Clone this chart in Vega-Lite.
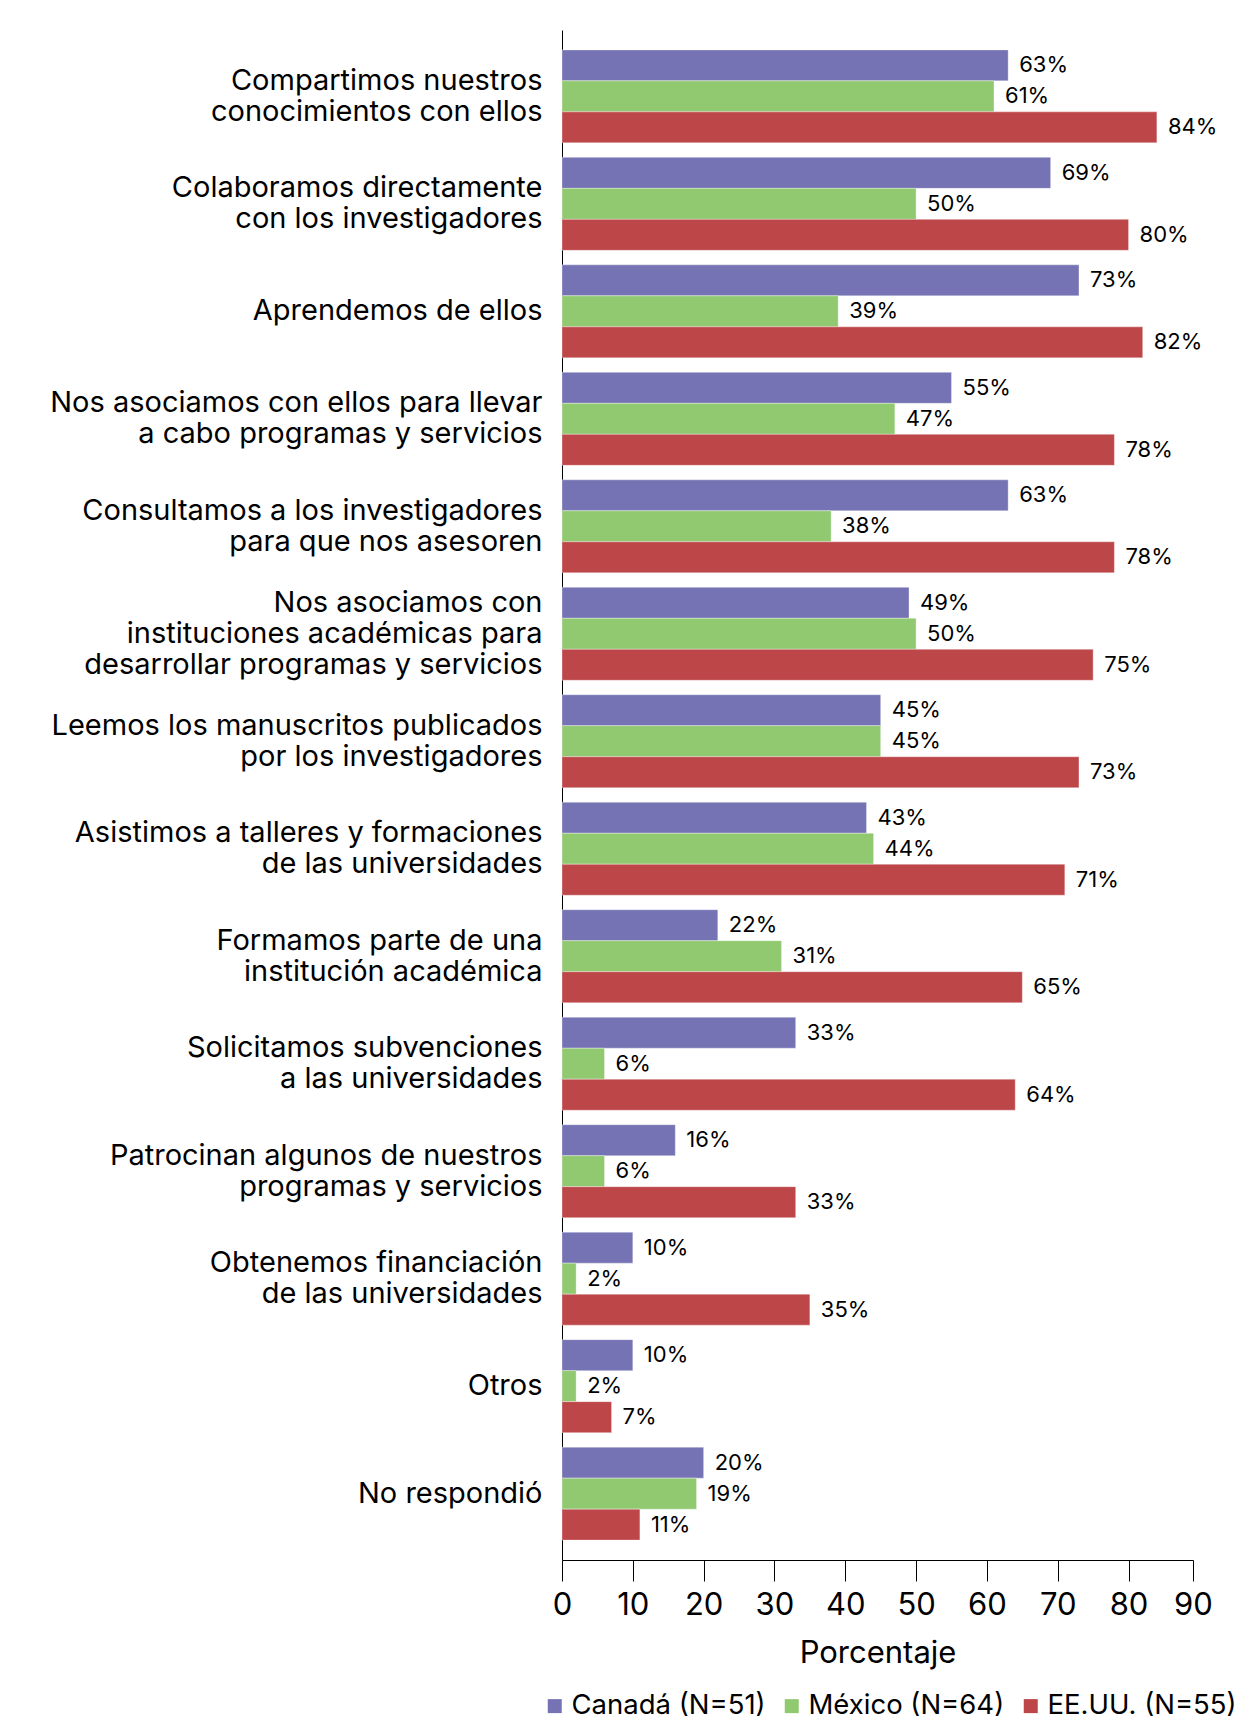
{
  "$schema": "https://vega.github.io/schema/vega-lite/v6.json",
  "width": 631,
  "height": 1530,
  "autosize": {"type": "none"},
  "padding": {"left": 562, "top": 30, "right": 57, "bottom": 173},
  "background": "white",
  "config": {"view": {"stroke": null}, "font": "Inter"},
  "data": {"values": [
    {"categoria": "Compartimos nuestros|conocimientos con ellos", "pais": "Canadá (N=51)", "valor": 63},
    {"categoria": "Compartimos nuestros|conocimientos con ellos", "pais": "México (N=64)", "valor": 61},
    {"categoria": "Compartimos nuestros|conocimientos con ellos", "pais": "EE.UU. (N=55)", "valor": 84},
    {"categoria": "Colaboramos directamente|con los investigadores", "pais": "Canadá (N=51)", "valor": 69},
    {"categoria": "Colaboramos directamente|con los investigadores", "pais": "México (N=64)", "valor": 50},
    {"categoria": "Colaboramos directamente|con los investigadores", "pais": "EE.UU. (N=55)", "valor": 80},
    {"categoria": "Aprendemos de ellos", "pais": "Canadá (N=51)", "valor": 73},
    {"categoria": "Aprendemos de ellos", "pais": "México (N=64)", "valor": 39},
    {"categoria": "Aprendemos de ellos", "pais": "EE.UU. (N=55)", "valor": 82},
    {"categoria": "Nos asociamos con ellos para llevar|a cabo programas y servicios", "pais": "Canadá (N=51)", "valor": 55},
    {"categoria": "Nos asociamos con ellos para llevar|a cabo programas y servicios", "pais": "México (N=64)", "valor": 47},
    {"categoria": "Nos asociamos con ellos para llevar|a cabo programas y servicios", "pais": "EE.UU. (N=55)", "valor": 78},
    {"categoria": "Consultamos a los investigadores|para que nos asesoren", "pais": "Canadá (N=51)", "valor": 63},
    {"categoria": "Consultamos a los investigadores|para que nos asesoren", "pais": "México (N=64)", "valor": 38},
    {"categoria": "Consultamos a los investigadores|para que nos asesoren", "pais": "EE.UU. (N=55)", "valor": 78},
    {"categoria": "Nos asociamos con|instituciones académicas para|desarrollar programas y servicios", "pais": "Canadá (N=51)", "valor": 49},
    {"categoria": "Nos asociamos con|instituciones académicas para|desarrollar programas y servicios", "pais": "México (N=64)", "valor": 50},
    {"categoria": "Nos asociamos con|instituciones académicas para|desarrollar programas y servicios", "pais": "EE.UU. (N=55)", "valor": 75},
    {"categoria": "Leemos los manuscritos publicados|por los investigadores", "pais": "Canadá (N=51)", "valor": 45},
    {"categoria": "Leemos los manuscritos publicados|por los investigadores", "pais": "México (N=64)", "valor": 45},
    {"categoria": "Leemos los manuscritos publicados|por los investigadores", "pais": "EE.UU. (N=55)", "valor": 73},
    {"categoria": "Asistimos a talleres y formaciones|de las universidades", "pais": "Canadá (N=51)", "valor": 43},
    {"categoria": "Asistimos a talleres y formaciones|de las universidades", "pais": "México (N=64)", "valor": 44},
    {"categoria": "Asistimos a talleres y formaciones|de las universidades", "pais": "EE.UU. (N=55)", "valor": 71},
    {"categoria": "Formamos parte de una|institución académica", "pais": "Canadá (N=51)", "valor": 22},
    {"categoria": "Formamos parte de una|institución académica", "pais": "México (N=64)", "valor": 31},
    {"categoria": "Formamos parte de una|institución académica", "pais": "EE.UU. (N=55)", "valor": 65},
    {"categoria": "Solicitamos subvenciones|a las universidades", "pais": "Canadá (N=51)", "valor": 33},
    {"categoria": "Solicitamos subvenciones|a las universidades", "pais": "México (N=64)", "valor": 6},
    {"categoria": "Solicitamos subvenciones|a las universidades", "pais": "EE.UU. (N=55)", "valor": 64},
    {"categoria": "Patrocinan algunos de nuestros|programas y servicios", "pais": "Canadá (N=51)", "valor": 16},
    {"categoria": "Patrocinan algunos de nuestros|programas y servicios", "pais": "México (N=64)", "valor": 6},
    {"categoria": "Patrocinan algunos de nuestros|programas y servicios", "pais": "EE.UU. (N=55)", "valor": 33},
    {"categoria": "Obtenemos financiación|de las universidades", "pais": "Canadá (N=51)", "valor": 10},
    {"categoria": "Obtenemos financiación|de las universidades", "pais": "México (N=64)", "valor": 2},
    {"categoria": "Obtenemos financiación|de las universidades", "pais": "EE.UU. (N=55)", "valor": 35},
    {"categoria": "Otros", "pais": "Canadá (N=51)", "valor": 10},
    {"categoria": "Otros", "pais": "México (N=64)", "valor": 2},
    {"categoria": "Otros", "pais": "EE.UU. (N=55)", "valor": 7},
    {"categoria": "No respondió", "pais": "Canadá (N=51)", "valor": 20},
    {"categoria": "No respondió", "pais": "México (N=64)", "valor": 19},
    {"categoria": "No respondió", "pais": "EE.UU. (N=55)", "valor": 11}
  ]},
  "transform": [{"calculate": "datum.valor + '%'", "as": "etiqueta"}],
  "encoding": {
    "y": {
      "field": "categoria", "type": "nominal", "sort": null,
      "scale": {"paddingInner": 0.135, "paddingOuter": 0.185},
      "axis": {
        "title": null, "ticks": false, "domain": true, "domainColor": "#000000", "domainWidth": 1,
        "labelExpr": "split(datum.label, '|')", "labelFont": "Inter", "labelFontSize": 29,
        "labelLineHeight": 31, "labelColor": "#000000", "labelPadding": 20, "labelLimit": 0,
        "labelOffset": {
          "condition": [
            {"test": "length(split(datum.value, '|')) == 3", "value": -31},
            {"test": "length(split(datum.value, '|')) == 2", "value": -15.5}
          ],
          "value": 0
        }
      }
    },
    "yOffset": {
      "field": "pais", "type": "nominal",
      "sort": ["Canadá (N=51)", "México (N=64)", "EE.UU. (N=55)"],
      "scale": {"paddingInner": 0, "paddingOuter": 0}
    },
    "x": {
      "field": "valor", "type": "quantitative",
      "scale": {"domain": [0, 89.1], "nice": false},
      "axis": {
        "values": [0, 10, 20, 30, 40, 50, 60, 70, 80, 89.1],
        "labelExpr": "datum.value > 85 ? '90' : datum.label",
        "labelFlush": false,
        "grid": false, "domainColor": "#000000", "tickColor": "#000000", "tickSize": 21,
        "labelFont": "Inter", "labelFontSize": 31, "labelColor": "#000000", "labelPadding": 9,
        "title": "Porcentaje", "titleFont": "Inter", "titleFontSize": 31, "titleFontWeight": "normal",
        "titleColor": "#000000", "titlePadding": 18
      }
    }
  },
  "layer": [
    {
      "mark": {"type": "bar", "stroke": "#ffffff", "strokeOpacity": 0.35, "strokeWidth": 1},
      "encoding": {
        "color": {
          "field": "pais", "type": "nominal",
          "sort": ["Canadá (N=51)", "México (N=64)", "EE.UU. (N=55)"],
          "scale": {"domain": ["Canadá (N=51)", "México (N=64)", "EE.UU. (N=55)"], "range": ["#7573b4", "#90c970", "#bd4649"]},
          "legend": {
            "orient": "none", "legendX": -21, "legendY": 1662, "direction": "horizontal",
            "title": null, "symbolType": "square", "symbolSize": 196, "symbolStrokeWidth": 0,
            "labelFont": "Inter", "labelFontSize": 27.5, "labelColor": "#000000",
            "labelOffset": 3, "columnPadding": 12, "labelLimit": 0
          }
        }
      }
    },
    {
      "mark": {"type": "text", "align": "left", "baseline": "middle", "dx": 11, "font": "Inter", "fontSize": 22, "color": "#000000"},
      "encoding": {"text": {"field": "etiqueta", "type": "nominal"}}
    }
  ]
}
